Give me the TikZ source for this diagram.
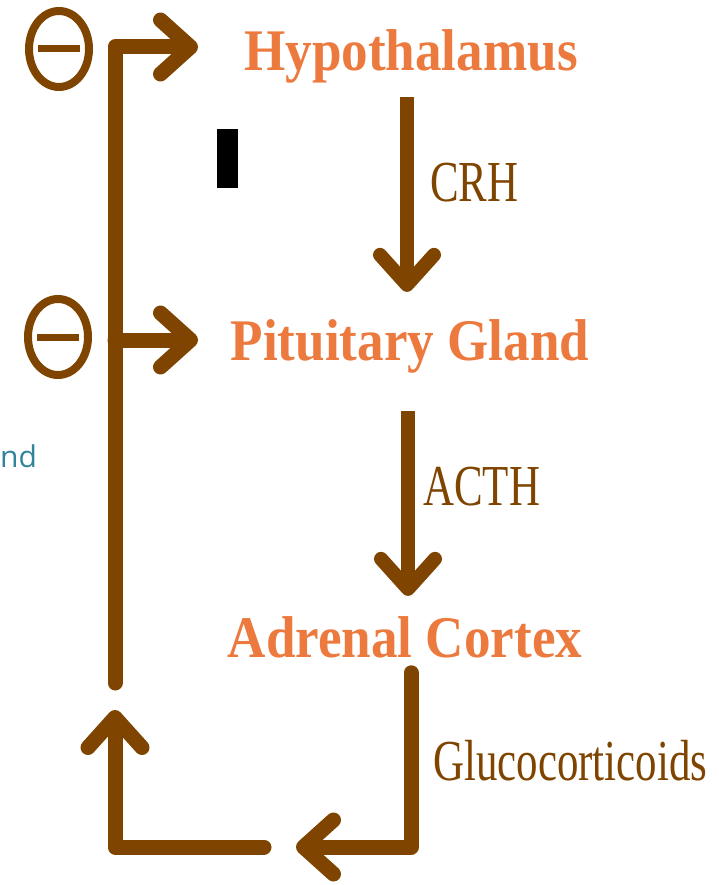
\documentclass[tikz,border=0pt]{standalone}
\usepackage{fontspec}
\setmainfont{Liberation Serif}
\newfontfamily\organfont[FakeStretch=0.9]{Liberation Serif}
\newfontfamily\hormfont[FakeStretch=0.74]{Liberation Serif}
\newfontfamily\notefont{Open Sans}
\usetikzlibrary{arrows.meta, positioning, shapes.geometric}

\begin{document}
\begin{tikzpicture}[
  x=1pt, y=-1pt,
  >={Straight Barb[length=30pt, width=54pt, round]},
  organ/.style={inner sep=0pt, anchor=base, text=corgan,
                font=\organfont\bfseries\fontsize{59}{60}\selectfont},
  horm/.style={inner sep=0pt, anchor=base west, text=cloop,
               font=\hormfont\fontsize{58}{60}\selectfont},
  down/.style={->, line width=14pt, draw=cloop},
  fb/.style={line width=15pt, draw=cloop, line cap=round, line join=round},
  inhib/.style={ellipse, draw=cloop, line width=8pt, inner sep=0pt,
                minimum width=60pt, minimum height=76pt},
]
\definecolor{corgan}{HTML}{EC7A3E}
\definecolor{cloop}{HTML}{7F4500}
\definecolor{cnote}{HTML}{31849B}
\useasboundingbox (0,0) rectangle (718,885);
\clip (0,0) rectangle (718,885);
% organs and hormones
\node[organ] (hyp) at (411,71) {Hypothalamus};
\node[organ] (pit) at (410,360) {Pituitary Gland};
\node[organ] (adr) at (405,657) {Adrenal Cortex};
\node[horm] (crh) at (430,202) {CRH};
\node[horm] (acth) at (423,505) {ACTH};
\node[horm] (gluc) at (433,780) {Glucocorticoids};
\draw[down, shorten <=13pt, shorten >=27pt]
  ([xshift=-4pt]hyp.south) -- ([xshift=-4pt]hyp.south |- pit.north);
\draw[down, shorten <=38pt, shorten >=20pt]
  ([xshift=-2pt]pit.south) -- ([xshift=-2pt]pit.south |- adr.north);
% feedback loop
\coordinate (lend) at (115,683);
\coordinate (lcorner) at (115,47);
\coordinate (hin) at (198,47);
\coordinate (lmid) at (115,340);
\coordinate (pin) at (198,340);
\coordinate (gout) at (296,847);
\coordinate (bstart) at (264,847);
\coordinate (lup) at (115,710);
\draw[fb, ->] (lend) -- (lcorner) -- (hin);
\draw[fb, ->] (lmid) -- (pin);
\draw[fb, ->, shorten <=15pt] ([xshift=6pt]adr.south) |- (gout);
\draw[fb, ->] (bstart) -| (lup);
% inhibition marks
\node[inhib] (inh1) at (59,49) {};
\node[inhib] (inh2) at (58,337) {};
\draw[cloop, line width=7pt] ([xshift=-21pt]inh1.center) -- ([xshift=21pt]inh1.center);
\draw[cloop, line width=7pt] ([xshift=-21pt]inh2.center) -- ([xshift=21pt]inh2.center);
% leftovers
\fill[black] (217,129) rectangle (238,188);
\node[inner sep=0pt, anchor=base west, text=cnote,
      font=\notefont\fontsize{30}{32}\selectfont] (note) at (0,467) {nd};
\end{tikzpicture}
\end{document}
